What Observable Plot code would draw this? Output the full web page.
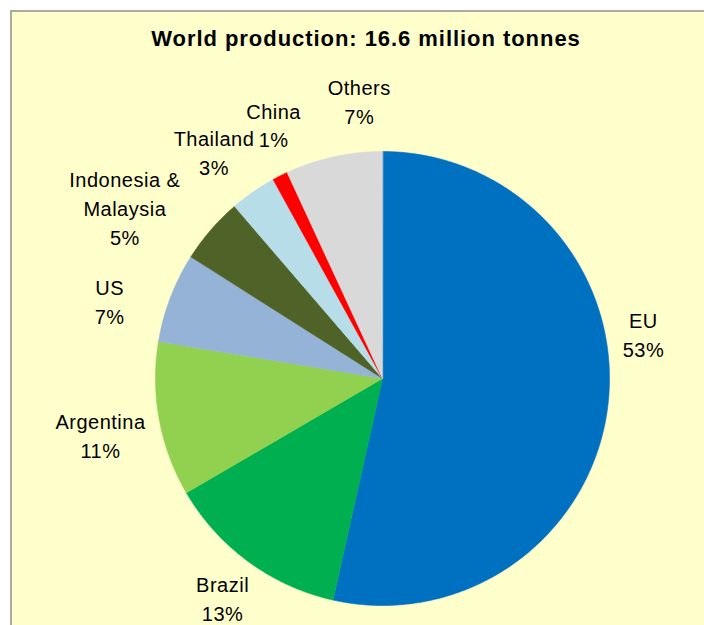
<!DOCTYPE html>
<html>
<head>
<meta charset="utf-8">
<script src="https://cdn.jsdelivr.net/npm/d3@7"></script>
<script src="https://cdn.jsdelivr.net/npm/@observablehq/plot@0.6"></script>
<style>
  html, body { margin: 0; padding: 0; background: #ffffff; width: 704px; height: 625px; overflow: hidden; }
  #panel { position: absolute; left: 10px; top: 10px; width: 720px; height: 640px;
           background: #FFFFCC; border-left: 2px solid #ABABA0; border-top: 2px solid #ABABA0; }
  #title { position: absolute; left: 0; top: 27px; width: 732px; text-align: center;
           font: bold 22px "Liberation Sans", Arial, sans-serif; line-height: 24px;
           letter-spacing: 0.95px; color: #000; }
  #chart { position: absolute; left: 0; top: 0; }
  #chart svg text { letter-spacing: 0.5px; }
</style>
</head>
<body>
<div id="panel"></div>
<div id="title">World production: 16.6 million tonnes</div>
<div id="chart"></div>
<script>
// ---- data ----
const names = ["EU", "Brazil", "Argentina", "US", "Indonesia &\nMalaysia", "Thailand", "China", "Others"];
// slice sizes (percent of world production)
const values = [53.5, 13.1, 11.0, 6.4, 4.7, 3.3, 1.1, 6.9];
// percentage labels as printed on the chart
const pctLabels = ["53%", "13%", "11%", "7%", "5%", "3%", "1%", "7%"];
const colors = ["#0070C0", "#00B050", "#92D050", "#95B3D7", "#4F6228", "#B7DDE8", "#FF0000", "#D9D9D9"];

// ---- label layout (Excel-style manual placement: angular nudge in degrees, radial distance in radii) ----
const labelNudge = [-15.7, -0.3, -1.1, -5.3, -7.5, -2.1, 3.5, 7.6];
const labelDist = [1.165, 1.202, 1.268, 1.248, 1.359, 1.238, 1.212, 1.220];

// ---- geometry from data ----
const arcs = d3.pie().sort(null).value(d => d)(values);
const pts = [];
arcs.forEach((a, i) => {
  const name = names[i];
  pts.push({name, x: 0, y: 0});
  const n = Math.max(2, Math.ceil((a.endAngle - a.startAngle) / (Math.PI / 360)));
  for (let k = 0; k <= n; k++) {
    const t = a.startAngle + (a.endAngle - a.startAngle) * k / n;
    pts.push({name, x: Math.sin(t), y: Math.cos(t)});
  }
});
const labels = arcs.map((a, i) => {
  const t = (a.startAngle + a.endAngle) / 2 + labelNudge[i] * Math.PI / 180;
  return {name: names[i], text: names[i] + "\n" + pctLabels[i],
          x: Math.sin(t) * labelDist[i], y: Math.cos(t) * labelDist[i]};
});

const chart = Plot.plot({
  width: 704,
  height: 625,
  margin: 0,
  x: {domain: [-1, 1], range: [155, 609], axis: null},
  y: {domain: [-1, 1], range: [605, 151], axis: null},
  color: {domain: names, range: colors},
  style: {background: "transparent", overflow: "visible"},
  marks: [
    Plot.line(pts, {x: "x", y: "y", z: "name", fill: "name", stroke: "name", strokeWidth: 0.6, curve: "linear-closed"}),
    Plot.text(labels, {x: "x", y: "y", text: "text", textAnchor: "middle", lineAnchor: "middle", dy: -2,
      lineHeight: 1.43, fontSize: 20, fontFamily: "Liberation Sans, Arial, sans-serif", fill: "#000"})
  ]
});
document.getElementById("chart").appendChild(chart);
</script>
</body>
</html>
